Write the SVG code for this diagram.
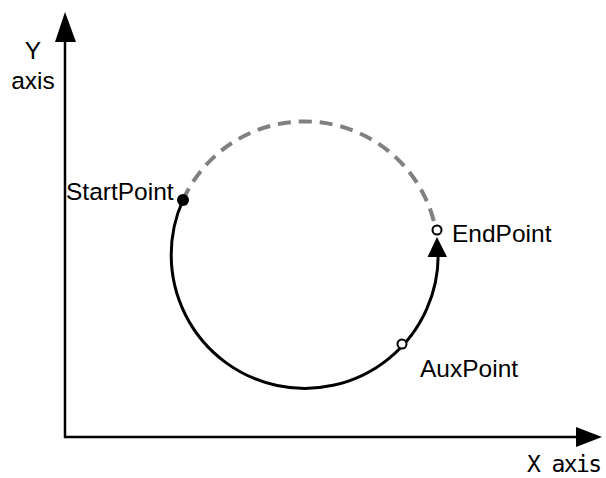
<svg xmlns="http://www.w3.org/2000/svg" width="606" height="478" viewBox="0 0 606 478">
<style>
.lbl{font-family:"Liberation Sans",Arial,sans-serif;font-size:24.5px;fill:#000}
.axis{stroke:#000;stroke-width:2.5;fill:none}
.head{fill:#000;stroke:none}
</style>
<rect width="606" height="478" fill="#fff"/>
<g id="axes">
<line class="axis" x1="65" y1="438" x2="65" y2="38"/>
<polygon class="head" points="65,12 55,42 76,42"/>
<line class="axis" x1="64" y1="437" x2="580" y2="437"/>
<polygon class="head" points="602,437 576,427 576,447"/>
</g>
<g id="connectors">
<path d="M 183 200 A 133.5 133.5 0 0 1 435 226" fill="none" stroke="#808080" stroke-width="4" stroke-dasharray="13 8"/>
<path d="M 183 200 A 133.5 133.5 0 1 0 438.2 254" fill="none" stroke="#000" stroke-width="3"/>
<polygon class="head" points="437,237 427.5,257 447,257"/>
</g>
<g id="StartPoint">
<circle cx="183" cy="200" r="6" fill="#000"/>
<text class="lbl" x="66" y="200">StartPoint</text>
</g>
<g id="EndPoint">
<circle cx="437" cy="230" r="4.5" fill="#fff" stroke="#000" stroke-width="2"/>
<text class="lbl" x="452" y="242">EndPoint</text>
</g>
<g id="AuxPoint">
<circle cx="402" cy="344" r="4.5" fill="#fff" stroke="#000" stroke-width="2"/>
<text class="lbl" x="420" y="377">AuxPoint</text>
</g>
<g id="labels">
<text class="lbl" x="33" y="59" text-anchor="middle">Y</text>
<text class="lbl" x="33" y="89" text-anchor="middle">axis</text>
<text x="527" y="472" font-family="DejaVu Sans Mono,monospace" font-size="23" textLength="75" lengthAdjust="spacing">X axis</text>
</g>
</svg>
